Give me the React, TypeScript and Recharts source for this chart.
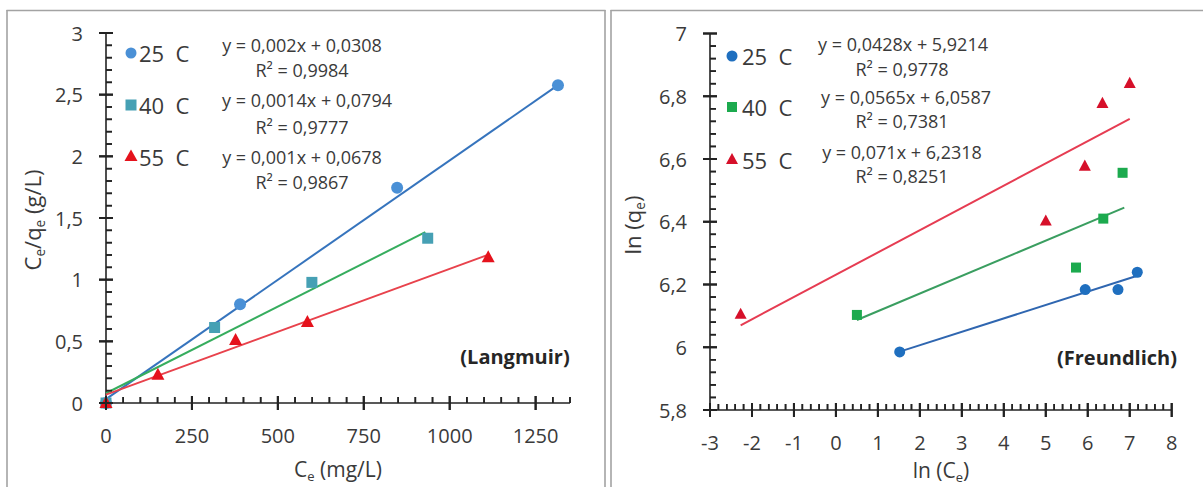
import React from 'react';
import { ScatterChart, Scatter, XAxis, YAxis, ReferenceDot } from 'recharts';

const FONT = '"Open Sans", "DejaVu Sans", sans-serif';
const TXT = '#3a3a3a';
const AXIS = '#222222';

// ---------- Langmuir (left) ----------
const langCe25 = [0, 390, 847, 1315];
const langY25 = [0, 0.8, 1.745, 2.577];
const langCe40 = [0, 316, 599, 936];
const langY40 = [0, 0.612, 0.978, 1.336];
const langCe55 = [0, 151, 377, 586, 1112];
const langY55 = [0, 0.228, 0.51, 0.656, 1.18];
// trendline end points
const langFitX25 = [0, 1315];
const langFitY25 = [0.031, 2.577];
const langFitX40 = [0, 929];
const langFitY40 = [0.079, 1.385];
const langFitX55 = [0, 1107];
const langFitY55 = [0.068, 1.197];

const langXMajor = [0, 250, 500, 750, 1000, 1250];
const langXMinor = [50, 100, 150, 200, 300, 350, 400, 450, 550, 600, 650, 700, 800, 850, 900, 950, 1050, 1100, 1150, 1200, 1300, 1350];
const langYMajor = [0, 0.5, 1, 1.5, 2, 2.5, 3];
const langYMinor = [0.1, 0.2, 0.3, 0.4, 0.6, 0.7, 0.8, 0.9, 1.1, 1.2, 1.3, 1.4, 1.6, 1.7, 1.8, 1.9, 2.1, 2.2, 2.3, 2.4, 2.6, 2.7, 2.8, 2.9];

// ---------- Freundlich (right) ----------
const frLnCe25 = [1.52, 5.94, 6.72, 7.18];
const frLnQe25 = [5.985, 6.184, 6.184, 6.239];
const frLnCe40 = [0.5, 5.72, 6.37, 6.83];
const frLnQe40 = [6.103, 6.254, 6.41, 6.556];
const frLnCe55 = [-2.27, 5.0, 5.93, 6.35, 7.0];
const frLnQe55 = [6.105, 6.402, 6.577, 6.777, 6.841];
const frFitX25 = [1.52, 7.18];
const frFitY25 = [5.986, 6.228];
const frFitX40 = [0.5, 6.87];
const frFitY40 = [6.087, 6.445];
const frFitX55 = [-2.27, 7.0];
const frFitY55 = [6.07, 6.728];

const frXMajor = [-3, -2, -1, 0, 1, 2, 3, 4, 5, 6, 7, 8];
const frXMinor = [-2.8, -2.6, -2.4, -2.2, -1.8, -1.6, -1.4, -1.2, -0.8, -0.6, -0.4, -0.2, 0.2, 0.4, 0.6, 0.8, 1.2, 1.4, 1.6, 1.8, 2.2, 2.4, 2.6, 2.8, 3.2, 3.4, 3.6, 3.8, 4.2, 4.4, 4.6, 4.8, 5.2, 5.4, 5.6, 5.8, 6.2, 6.4, 6.6, 6.8, 7.2, 7.4, 7.6, 7.8];
const frYMajor = [5.8, 6, 6.2, 6.4, 6.6, 6.8, 7];
const frYMinor = [5.84, 5.88, 5.92, 5.96, 6.04, 6.08, 6.12, 6.16, 6.24, 6.28, 6.32, 6.36, 6.44, 6.48, 6.52, 6.56, 6.64, 6.68, 6.72, 6.76, 6.84, 6.88, 6.92, 6.96];

const seriesNames = ['25\u00a0\u00a0C', '40\u00a0\u00a0C', '55\u00a0\u00a0C'];
const langEq = ['y = 0,002x + 0,0308', 'y = 0,0014x + 0,0794', 'y = 0,001x + 0,0678'];
const langR2 = ['R² = 0,9984', 'R² = 0,9777', 'R² = 0,9867'];
const frEq = ['y = 0,0428x + 5,9214', 'y = 0,0565x + 6,0587', 'y = 0,071x + 6,2318'];
const frR2 = ['R² = 0,9778', 'R² = 0,7381', 'R² = 0,8251'];

const pts = (xs: number[], ys: number[]) => xs.map((x, i) => ({ x, y: ys[i] }));
const merge = (a: number[], b: number[]) => [...a, ...b].sort((p, q) => p - q);
const fmt = (v: number) => String(v).replace('.', ',');

// tick labels and tick marks (from the axis' own tick positions)
const makeXTick = (majors: number[]) => (props: any) => {
  const x = Number(props.x);
  const y = Number(props.y);
  const v = props.payload.value;
  const major = majors.indexOf(v) >= 0;
  return (
    <g>
      <path d={major ? `M${x},${y - 7}V${y + 7}` : `M${x},${y - 6}V${y}`} stroke={AXIS} strokeWidth={major ? 2 : 1.6} fill="none" />
      {major ? (
        <text x={x} y={y + 32} textAnchor="middle" dominantBaseline="central" fontFamily={FONT} fontSize={20} fill={TXT}>
          {fmt(v)}
        </text>
      ) : null}
    </g>
  );
};
const makeYTick = (majors: number[]) => (props: any) => {
  const x = Number(props.x);
  const y = Number(props.y);
  const v = props.payload.value;
  const major = majors.indexOf(v) >= 0;
  return (
    <g>
      <path d={major ? `M${x - 7},${y}H${x + 7}` : `M${x},${y}H${x + 6}`} stroke={AXIS} strokeWidth={major ? 2 : 1.6} fill="none" />
      {major ? (
        <text x={x - 23} y={y} textAnchor="end" dominantBaseline="central" fontFamily={FONT} fontSize={20} fill={TXT}>
          {fmt(v)}
        </text>
      ) : null}
    </g>
  );
};

// tick marks also drawn through reference dots placed on the axis lines
const xMajorMark = (p: any) => <path d={`M${p.cx},${p.cy - 7}V${p.cy + 7}`} stroke={AXIS} strokeWidth={2} fill="none" />;
const xMinorMark = (p: any) => <path d={`M${p.cx},${p.cy - 6}V${p.cy}`} stroke={AXIS} strokeWidth={1.6} fill="none" />;
const yMajorMark = (p: any) => <path d={`M${p.cx - 7},${p.cy}H${p.cx + 7}`} stroke={AXIS} strokeWidth={2} fill="none" />;
const yMinorMark = (p: any) => <path d={`M${p.cx},${p.cy}H${p.cx + 6}`} stroke={AXIS} strokeWidth={1.6} fill="none" />;

const tickMarks = (xMaj: number[], xMin: number[], yMaj: number[], yMin: number[], x0: number, y0: number) => [
  ...xMaj.map((v) => <ReferenceDot key={`xM${v}`} x={v} y={y0} shape={xMajorMark} ifOverflow="visible" />),
  ...xMin.map((v) => <ReferenceDot key={`xm${v}`} x={v} y={y0} shape={xMinorMark} ifOverflow="visible" />),
  ...yMaj.map((v) => <ReferenceDot key={`yM${v}`} x={x0} y={v} shape={yMajorMark} ifOverflow="visible" />),
  ...yMin.map((v) => <ReferenceDot key={`ym${v}`} x={x0} y={v} shape={yMinorMark} ifOverflow="visible" />),
];

const circle = (fill: string, r: number) => (p: any) => <circle cx={p.cx} cy={p.cy} r={r} fill={fill} />;
const square = (fill: string, h: number) => (p: any) => (
  <rect x={p.cx - h} y={p.cy - h} width={2 * h} height={2 * h} fill={fill} />
);
const triangle = (fill: string, s: number) => (p: any) => (
  <polygon points={`${p.cx},${p.cy - s * 1.1} ${p.cx - s},${p.cy + s * 0.75} ${p.cx + s},${p.cy + s * 0.75}`} fill={fill} />
);
const none = () => <g />;

const Txt = ({ x, y, size = 18, bold = false, start = false, rotate = false, color = TXT, children }: any) => (
  <div
    style={{
      position: 'absolute',
      left: x,
      top: y,
      transform: `translate(${start ? '0' : '-50%'}, -50%)${rotate ? ' rotate(-90deg)' : ''}`,
      fontSize: size,
      fontWeight: bold ? 700 : 400,
      whiteSpace: 'pre',
      lineHeight: 1,
      color,
      fontFamily: FONT,
    }}
  >
    {children}
  </div>
);

const Sub = ({ children }: any) => (
  <span style={{ fontSize: '0.62em', position: 'relative', top: '0.32em' }}>{children}</span>
);

const L_COL = { c25: '#4a90d6', c40: '#46a0b4', c55: '#e5121c', l25: '#3674bd', l40: '#36ad5e', l55: '#e8424c' };
const R_COL = { c25: '#1f6fbf', c40: '#1caa4e', c55: '#d6102a', l25: '#2f66b0', l40: '#3a9e60', l55: '#e63c52' };

const axisCommon = {
  type: 'number' as const,
  interval: 0,
  tickSize: 0,
  tickMargin: 0,
  tickLine: false,
  axisLine: { stroke: AXIS, strokeWidth: 1.6 },
};

export default function App() {
  return (
    <div style={{ position: 'absolute', left: 0, top: 0, width: 1203, height: 487, background: '#fff', overflow: 'hidden', fontFamily: FONT }}>
      {/* frames and legend markers */}
      <svg width={1203} height={487} style={{ position: 'absolute', left: 0, top: 0 }}>
        <g stroke="#a3a3a3" strokeWidth={1.6} fill="none">
          <line x1={6.5} x2={605.5} y1={10.5} y2={10.5} />
          <line x1={610.5} x2={1203} y1={10.5} y2={10.5} />
          <line x1={7} x2={7} y1={10} y2={487} />
          <line x1={605} x2={605} y1={10} y2={487} />
          <line x1={611} x2={611} y1={10} y2={487} />
        </g>
        <circle cx={131} cy={53} r={5.5} fill={L_COL.c25} />
        <rect x={125.5} y={99.5} width={11} height={11} fill={L_COL.c40} />
        <polygon points="131,149.5 124.5,161 137.5,161" fill={L_COL.c55} />
        <circle cx={732} cy={56} r={5.5} fill={R_COL.c25} />
        <rect x={727} y={102} width={10} height={10} fill={R_COL.c40} />
        <polygon points="732,153 726,164 738,164" fill={R_COL.c55} />
      </svg>

      {/* Left: Langmuir */}
      <div style={{ position: 'absolute', left: 0, top: 0 }}>
        <ScatterChart width={605} height={487} margin={{ top: 33, right: 35, bottom: 34, left: 46 }}>
          <XAxis {...axisCommon} dataKey="x" domain={[0, 1350]} ticks={merge(langXMajor, langXMinor)} tick={makeXTick(langXMajor)} height={50} />
          <YAxis {...axisCommon} dataKey="y" domain={[0, 3]} ticks={merge(langYMajor, langYMinor)} tick={makeYTick(langYMajor)} width={60} />
          {tickMarks(langXMajor, langXMinor, langYMajor, langYMinor, 0, 0)}
          <Scatter data={pts(langFitX25, langFitY25)} line={{ stroke: L_COL.l25, strokeWidth: 2 }} shape={none} isAnimationActive={false} />
          <Scatter data={pts(langFitX40, langFitY40)} line={{ stroke: L_COL.l40, strokeWidth: 2 }} shape={none} isAnimationActive={false} />
          <Scatter data={pts(langFitX55, langFitY55)} line={{ stroke: L_COL.l55, strokeWidth: 2 }} shape={none} isAnimationActive={false} />
          <Scatter data={pts(langCe25, langY25)} shape={circle(L_COL.c25, 6)} isAnimationActive={false} />
          <Scatter data={pts(langCe40, langY40)} shape={square(L_COL.c40, 5.5)} isAnimationActive={false} />
          <Scatter data={pts(langCe55, langY55)} shape={triangle(L_COL.c55, 6.5)} isAnimationActive={false} />
        </ScatterChart>
      </div>

      {/* Right: Freundlich */}
      <div style={{ position: 'absolute', left: 612, top: 0 }}>
        <ScatterChart width={591} height={487} margin={{ top: 33.5, right: 31.3, bottom: 27, left: 38 }}>
          <XAxis {...axisCommon} dataKey="x" domain={[-3, 8]} ticks={merge(frXMajor, frXMinor)} tick={makeXTick(frXMajor)} height={50} />
          <YAxis {...axisCommon} dataKey="y" domain={[5.8, 7]} ticks={merge(frYMajor, frYMinor)} tick={makeYTick(frYMajor)} width={60} />
          {tickMarks(frXMajor, frXMinor, frYMajor, frYMinor, -3, 5.8)}
          <Scatter data={pts(frFitX25, frFitY25)} line={{ stroke: R_COL.l25, strokeWidth: 2 }} shape={none} isAnimationActive={false} />
          <Scatter data={pts(frFitX40, frFitY40)} line={{ stroke: R_COL.l40, strokeWidth: 2 }} shape={none} isAnimationActive={false} />
          <Scatter data={pts(frFitX55, frFitY55)} line={{ stroke: R_COL.l55, strokeWidth: 2 }} shape={none} isAnimationActive={false} />
          <Scatter data={pts(frLnCe25, frLnQe25)} shape={circle(R_COL.c25, 5.5)} isAnimationActive={false} />
          <Scatter data={pts(frLnCe40, frLnQe40)} shape={square(R_COL.c40, 5)} isAnimationActive={false} />
          <Scatter data={pts(frLnCe55, frLnQe55)} shape={triangle(R_COL.c55, 6)} isAnimationActive={false} />
        </ScatterChart>
      </div>

      {/* Left texts */}
      <Txt x={32} y={220} size={22} rotate>
        C<Sub>e</Sub>/q<Sub>e</Sub> (g/L)
      </Txt>
      <Txt x={338} y={469} size={21}>
        C<Sub>e</Sub> (mg/L)
      </Txt>
      <Txt x={515} y={357} size={20} bold color="#262626">(Langmuir)</Txt>
      <Txt x={139} y={53} size={22} start>{seriesNames[0]}</Txt>
      <Txt x={139} y={105} size={22} start>{seriesNames[1]}</Txt>
      <Txt x={139} y={157} size={22} start>{seriesNames[2]}</Txt>
      <Txt x={302} y={45} size={18}>{langEq[0]}</Txt>
      <Txt x={302} y={70} size={18}>{langR2[0]}</Txt>
      <Txt x={307} y={100} size={18}>{langEq[1]}</Txt>
      <Txt x={302} y={127} size={18}>{langR2[1]}</Txt>
      <Txt x={302} y={157} size={18}>{langEq[2]}</Txt>
      <Txt x={302} y={182} size={18}>{langR2[2]}</Txt>

      {/* Right texts */}
      <Txt x={632} y={225} size={22} rotate>
        ln (q<Sub>e</Sub>)
      </Txt>
      <Txt x={941} y={470} size={21}>
        ln (C<Sub>e</Sub>)
      </Txt>
      <Txt x={1117} y={358} size={20} bold color="#262626">(Freundlich)</Txt>
      <Txt x={742} y={56} size={22} start>{seriesNames[0]}</Txt>
      <Txt x={742} y={107} size={22} start>{seriesNames[1]}</Txt>
      <Txt x={742} y={160} size={22} start>{seriesNames[2]}</Txt>
      <Txt x={903} y={44} size={18}>{frEq[0]}</Txt>
      <Txt x={902} y={69} size={18}>{frR2[0]}</Txt>
      <Txt x={906} y={97} size={18}>{frEq[1]}</Txt>
      <Txt x={902} y={121} size={18}>{frR2[1]}</Txt>
      <Txt x={902} y={152} size={18}>{frEq[2]}</Txt>
      <Txt x={902} y={176} size={18}>{frR2[2]}</Txt>
    </div>
  );
}
